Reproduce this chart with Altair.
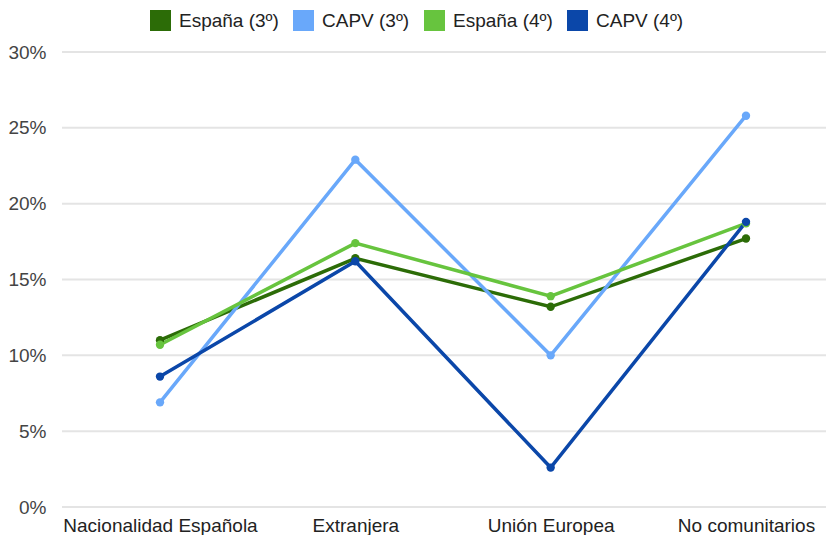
import altair as alt
import pandas as pd

categories = ["Nacionalidad Española", "Extranjera", "Unión Europea", "No comunitarios"]
series = ["España (3º)", "CAPV (3º)", "España (4º)", "CAPV (4º)"]
espana3 = [11.0, 16.4, 13.2, 17.7]
capv3 = [6.9, 22.9, 10.0, 25.8]
espana4 = [10.7, 17.4, 13.9, 18.7]
capv4 = [8.6, 16.2, 2.6, 18.8]
colors = ["#2c6c07", "#69a8fa", "#67c43e", "#0b47a9"]
y_ticks = [0, 5, 10, 15, 20, 25, 30]

rows = []
for name, vals in zip(series, [espana3, capv3, espana4, capv4]):
    for c, v in zip(categories, vals):
        rows.append({"cat": c, "serie": name, "val": v})
df = pd.DataFrame(rows)
grid_df = pd.DataFrame({"val": y_ticks})

FONT = "Liberation Sans"
W = 764

x = alt.X("cat:N", sort=categories, title=None,
          scale=alt.Scale(type="point", range=[98, 684], padding=0),
          axis=alt.Axis(labelAngle=0, labelFontSize=19, labelColor="#222222",
                        labelPadding=9, ticks=False, domain=False, grid=False,
                        labelFont=FONT, labelLimit=400))
yscale = alt.Scale(domain=[0, 30], nice=False)
yaxis = alt.Axis(values=y_ticks, labelExpr="datum.value + '%'",
                 labelFontSize=19, labelColor="#444444", labelPadding=16,
                 ticks=False, domain=False, grid=False, labelFont=FONT)
y = alt.Y("val:Q", title=None, scale=yscale, axis=yaxis)
color = alt.Color("serie:N", sort=series,
                  scale=alt.Scale(domain=series, range=colors),
                  legend=alt.Legend(title=None, orient="none", direction="horizontal",
                                    legendX=88, legendY=-42, symbolType="square",
                                    symbolSize=441, symbolStrokeWidth=0,
                                    labelFontSize=19, labelColor="#222222",
                                    labelFont=FONT, labelOffset=8,
                                    columnPadding=14, symbolOpacity=1))

grid = alt.Chart(grid_df).mark_rule(color="#e4e4e4", strokeWidth=2).encode(
    y=alt.Y("val:Q", title=None, scale=yscale, axis=yaxis),
    x=alt.value(0), x2=alt.value(W),
)

base = alt.Chart(df).encode(x=x, y=y, color=color)
lines = base.mark_line(strokeWidth=3.5)
points = base.mark_point(filled=True, size=70, opacity=1)

chart = alt.layer(grid, lines, points).properties(
    width=W, height=455,
    autosize=alt.AutoSizeParams(type="none"),
    padding={"left": 54, "top": 44, "right": 0, "bottom": 30},
).configure(font=FONT, view=alt.ViewConfig(stroke=None))

chart.save("out.html", embed_options={"renderer": "svg", "actions": False})
